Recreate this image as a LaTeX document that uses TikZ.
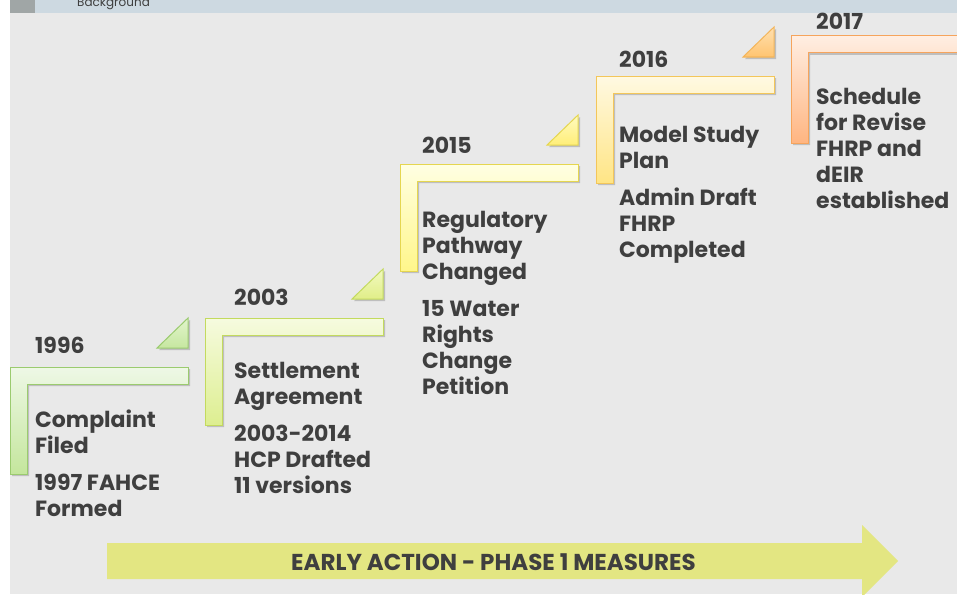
\documentclass[tikz,border=0pt]{standalone}
\usepackage{fontspec}
\setmainfont{Poppins}
\definecolor{bggray}{HTML}{E9E9E9}
\definecolor{topbar}{HTML}{CDD9E1}
\definecolor{topdark}{HTML}{A0A6A6}
\definecolor{txt}{HTML}{3F3F3F}
\definecolor{arrowcol}{HTML}{E3E682}
\definecolor{gAtop}{HTML}{EEF8E6}\definecolor{gAbot}{HTML}{C4E69C}\definecolor{gAbrd}{HTML}{9BCB6F}
\definecolor{gBtop}{HTML}{F6FBDF}\definecolor{gBbot}{HTML}{DDEE90}\definecolor{gBbrd}{HTML}{C3DA5E}
\definecolor{gCtop}{HTML}{FFFFE3}\definecolor{gCbot}{HTML}{FFF68A}\definecolor{gCbrd}{HTML}{E5D650}
\definecolor{gDtop}{HTML}{FFF9E2}\definecolor{gDbot}{HTML}{FFE585}\definecolor{gDbrd}{HTML}{F3C65A}
\definecolor{gEtop}{HTML}{FFEEE2}\definecolor{gEbot}{HTML}{FFB581}\definecolor{gEbrd}{HTML}{F6A45C}
\definecolor{tAtop}{HTML}{E2F4CC}\definecolor{tAbot}{HTML}{C6E7A0}
\definecolor{tBtop}{HTML}{F2F9C0}\definecolor{tBbot}{HTML}{E0EE88}
\definecolor{tCtop}{HTML}{FFFBC0}\definecolor{tCbot}{HTML}{FFEE78}
\definecolor{tDtop}{HTML}{FFE0B0}\definecolor{tDbot}{HTML}{FFC470}\definecolor{tDbrd}{HTML}{F3B55A}
\newcommand{\stepL}[5]{% x y top bottom border
  \fill[black,opacity=.18] (#1+2,#2+2) -- ++(178,0) -- ++(0,17) -- ++(-161,0) -- ++(0,90) -- ++(-17,0) -- cycle;
  \path[top color=#3,bottom color=#4,draw=#5,line width=1pt]
    (#1,#2) -- ++(178,0) -- ++(0,17) -- ++(-161,0) -- ++(0,90) -- ++(-17,0) -- cycle;}
\newcommand{\stepT}[5]{% x y(top of step) top bottom border
  \fill[black,opacity=.18] (#1+149,#2-17) -- ++(31,0) -- ++(0,-30) -- cycle;
  \path[top color=#3,bottom color=#4,draw=#5,line width=1pt]
    (#1+147,#2-19) -- ++(31,0) -- ++(0,-30) -- cycle;}
\tikzset{
  yeartxt/.style={anchor=base west,inner sep=0pt,text=txt,font=\fontsize{22}{26}\selectfont\bfseries},
  bodytxt/.style={anchor=base west,inner sep=0pt,text=txt,align=left,font=\fontsize{22}{26}\selectfont\bfseries},
}
\begin{document}
\begin{tikzpicture}[x=1pt,y=-1pt]
\useasboundingbox (0,0) rectangle (957,594);
\fill[white] (0,0) rectangle (957,594);
\fill[bggray] (10,0) rectangle (957,594);
\fill[topbar] (10,0) rectangle (957,13);
\fill[topdark] (10,0) rectangle (35,13);
\node[anchor=base west,inner sep=0pt,text=txt,font=\fontsize{12}{14}\selectfont] (hdr) at (77,7) {Background};
% arrow
\fill[arrowcol] (107,543) -- (862,543) -- (862,525) -- (898,561) -- (862,597) -- (862,579) -- (107,579) -- cycle;
\node[anchor=base,inner sep=0pt,text=txt,font=\fontsize{23}{26}\selectfont\bfseries] (phase) at (493.5,570) {EARLY ACTION - PHASE 1 MEASURES};
% steps
\stepT{10}{367}{tAtop}{tAbot}{gAbrd}
\stepT{205}{318}{tBtop}{tBbot}{gBbrd}
\stepT{400}{164}{tCtop}{tCbot}{gCbrd}
\stepT{596}{76}{tDtop}{tDbot}{tDbrd}
\stepL{10}{367}{gAtop}{gAbot}{gAbrd}
\stepL{205}{318}{gBtop}{gBbot}{gBbrd}
\stepL{400}{164}{gCtop}{gCbot}{gCbrd}
\stepL{596}{76}{gDtop}{gDbot}{gDbrd}
\stepL{791}{36}{gEtop}{gEbot}{gEbrd}
% texts (multi-line nodes: anchor is the last line's baseline)
\node[yeartxt] (y1) at (35,353) {1996};
\node[bodytxt] (a1) at (35,453) {Complaint\\Filed};
\node[bodytxt] (b1) at (35,516) {1997 FAHCE\\Formed};
\node[yeartxt] (y2) at (234,305) {2003};
\node[bodytxt] (a2) at (234,404) {Settlement\\Agreement};
\node[bodytxt] (b2) at (234,493) {2003-2014\\HCP Drafted\\11 versions};
\node[yeartxt] (y3) at (422,153) {2015};
\node[bodytxt] (a3) at (422,279) {Regulatory\\Pathway\\Changed};
\node[bodytxt] (b3) at (422,394) {15 Water\\Rights\\Change\\Petition};
\node[yeartxt] (y4) at (619,67) {2016};
\node[bodytxt] (a4) at (619,168) {Model Study\\Plan};
\node[bodytxt] (b4) at (619,257) {Admin Draft\\FHRP\\Completed};
\node[yeartxt] (y5) at (816,30) {2017};
\node[bodytxt] (a5) at (816,208) {Schedule\\for Revise\\FHRP and\\dEIR\\established};
\end{tikzpicture}
\end{document}
